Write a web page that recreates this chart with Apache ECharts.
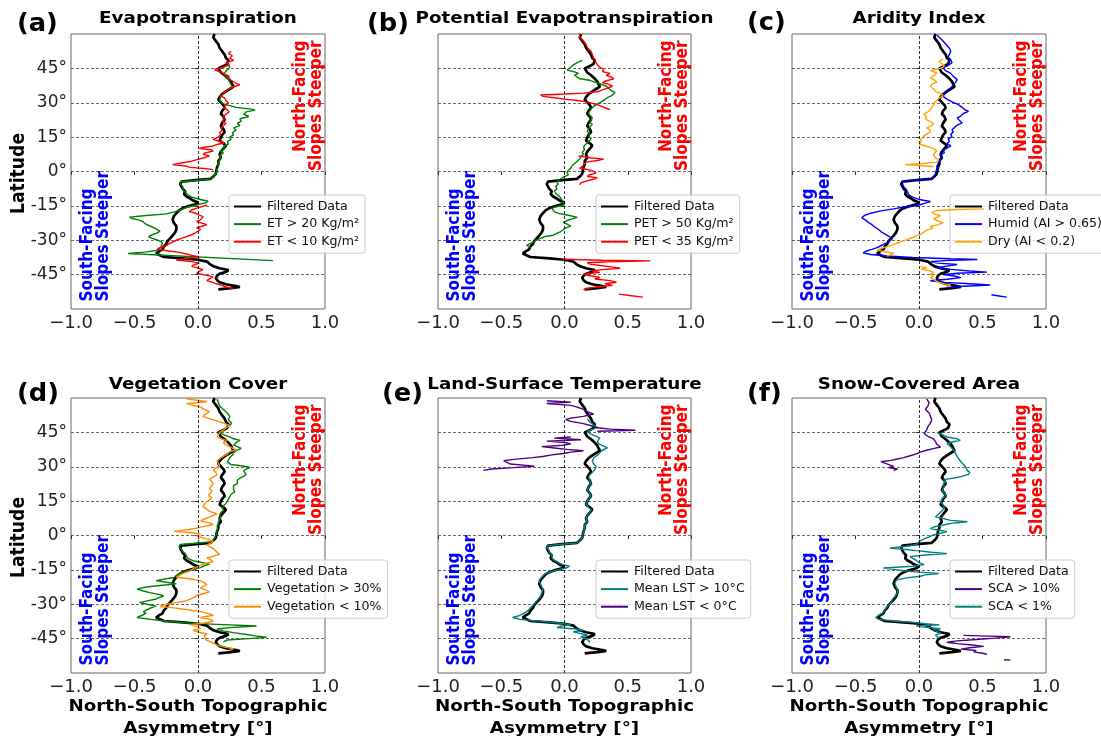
<!DOCTYPE html>
<html><head><meta charset="utf-8">
<script src="https://cdn.jsdelivr.net/npm/echarts@6/dist/echarts.min.js"></script>
<style>html,body{margin:0;padding:0;background:#fff}#c{width:1101px;height:740px}</style>
</head><body><div id="c"></div>
<script>
// ---- data: [latitude, asymmetry] ----
const latTicks = [-45, -30, -15, 0, 15, 30, 45];
const asymTicks = [-1, -0.5, 0, 0.5, 1];

const filtered = [[60,0.13],[58.5,0.12],[57,0.14],[55.5,0.16],[54,0.17],[52.5,0.19],[51,0.21],[49.5,0.22],[48.5,0.24],[47,0.23],[46,0.2],[45,0.16],[44.3,0.145],[43.2,0.18],[42,0.21],[40.5,0.24],[39.2,0.26],[38,0.27],[37,0.28],[36,0.25],[35,0.22],[33.8,0.19],[32.5,0.17],[31.3,0.16],[30.2,0.18],[29,0.2],[27.8,0.21],[26.5,0.19],[25.2,0.18],[24,0.2],[22.6,0.21],[21.2,0.19],[19.8,0.18],[18.5,0.2],[17.2,0.21],[16,0.19],[14.8,0.18],[13.5,0.17],[12.3,0.2],[11.3,0.22],[10,0.2],[8.7,0.18],[7.4,0.17],[6,0.18],[4.6,0.16],[3.2,0.16],[1.8,0.15],[0.4,0.145],[-1,0.14],[-2.2,0.12],[-3.2,0.1],[-3.8,-0.02],[-4.4,-0.13],[-5.5,-0.14],[-6.6,-0.13],[-7.6,-0.12],[-8.7,-0.1],[-9.8,-0.11],[-10.9,-0.09],[-11.8,-0.06],[-12.6,-0.04],[-13.5,0.0],[-14.3,-0.02],[-15.2,-0.08],[-16,-0.12],[-17,-0.15],[-18.2,-0.17],[-19.5,-0.19],[-21,-0.2],[-22.4,-0.19],[-23.8,-0.17],[-25.2,-0.17],[-26.6,-0.18],[-28,-0.2],[-29.2,-0.22],[-30.4,-0.24],[-31.6,-0.25],[-32.8,-0.27],[-34,-0.28],[-35,-0.31],[-35.8,-0.33],[-36.6,-0.32],[-37.3,-0.27],[-37.9,-0.12],[-38.5,0.0],[-39.3,0.07],[-40.3,0.09],[-41.3,0.12],[-42.2,0.17],[-43,0.24],[-43.8,0.22],[-44.6,0.17],[-45.5,0.15],[-46.5,0.14],[-47.4,0.15],[-48.3,0.17],[-49.2,0.22],[-50,0.3],[-50.4,0.33],[-50.9,0.26],[-51.4,0.16]];

const etHigh = [[47,0.24],[45.5,0.25],[44.3,0.23],[42.5,0.2],[41,0.23],[39,0.25],[37,0.27],[35,0.22],[33,0.18],[31,0.17],[29.5,0.2],[28,0.3],[27.2,0.42],[26.8,0.45],[26,0.38],[25,0.36],[24,0.4],[23,0.33],[22,0.34],[21,0.31],[20,0.33],[19,0.28],[18,0.3],[17,0.27],[16,0.28],[15,0.25],[14,0.26],[13,0.23],[12,0.24],[11,0.2],[10,0.21],[9,0.18],[8,0.2],[7,0.17],[6,0.18],[5,0.17],[4,0.16],[3,0.155],[2,0.16],[1,0.15],[0,0.145],[-1,0.14],[-2.2,0.12],[-3.2,0.1],[-3.9,-0.02],[-4.5,-0.14],[-5.5,-0.14],[-6.6,-0.12],[-7.8,-0.12],[-9,-0.1],[-10.2,-0.08],[-11.2,-0.05],[-12.2,0.02],[-13,0.08],[-13.8,0.05],[-14.6,-0.01],[-15.5,-0.08],[-16.5,-0.13],[-17.5,-0.18],[-18.5,-0.25],[-19.4,-0.45],[-19.9,-0.54],[-20.5,-0.52],[-21.2,-0.46],[-22,-0.43],[-23,-0.41],[-24,-0.37],[-25,-0.33],[-26,-0.3],[-26.8,-0.32],[-27.6,-0.36],[-28.4,-0.39],[-29.2,-0.36],[-29.9,-0.32],[-30.6,-0.29],[-31.5,-0.28],[-32.5,-0.29],[-33.5,-0.3],[-34.5,-0.33],[-35.2,-0.42],[-35.8,-0.55],[-38.9,0.59]];

const etLow = [[52.5,0.26],[51.5,0.24],[50.5,0.27],[49.5,0.25],[48.5,0.28],[47.5,0.22],[46.5,0.245],[45.5,0.2],[44.5,0.13],[43.5,0.17],[42.5,0.21],[41.5,0.245],[40.5,0.24],[39.5,0.27],[38.5,0.3],[37.8,0.33],[37,0.28],[36,0.245],[35,0.22],[34,0.2],[33,0.18],[32,0.21],[31,0.22],[30,0.24],[29,0.22],[28,0.2],[27,0.23],[26,0.245],[25,0.22],[24,0.2],[23,0.21],[22,0.19],[21,0.22],[20,0.2],[19,0.18],[18,0.19],[17,0.17],[16,0.18],[15,0.16],[14,0.12],[13,0.18],[12.5,0.21],[11.8,0.15],[11.2,0.12],[10.6,0.05],[10.1,0.01],[9.5,0.1],[8.9,0.12],[8.2,0.06],[7.5,0.04],[6.8,0.09],[6,0.05],[5.3,0.0],[4.5,-0.05],[3.8,-0.12],[3,-0.2],[2.4,-0.1],[1.8,-0.06],[1.3,0.05],[0.8,0.12],null,
[-14.6,0.07],[-15.3,0.03],[-16,-0.01],[-16.8,-0.05],[-17.5,-0.07],[-18.2,-0.02],[-19,0.01],[-19.7,0.04],[-20.4,0.05],[-21.1,0.02],[-21.8,-0.01],[-22.5,0.03],[-23.2,0.07],[-23.9,0.03],[-24.6,-0.01],[-25.3,0.02],[-26,0.01],[-26.8,-0.02],[-27.6,-0.05],[-28.4,-0.09],[-29.2,-0.13],[-30,-0.17],[-30.8,-0.2],[-31.6,-0.23],[-32.4,-0.25],[-33.2,-0.3],[-33.8,-0.32],[-34.6,-0.24],[-35.3,-0.15],[-36,-0.09],[-36.6,-0.05],[-37.2,0.01],[-37.8,-0.08],[-38.6,-0.17],[-39.3,-0.05],[-40,0.01],[-40.7,-0.03],[-41.4,-0.05],[-42.1,0.0],[-42.8,0.04],[-43.6,0.01],[-44.4,-0.01],[-45.2,0.06],[-46,0.12],[-46.8,0.09],[-47.6,0.07],[-48.3,0.11],[-49,0.145],[-49.7,0.19],[-50.4,0.22],[-51,0.28]];

const petHigh = [[48.5,0.14],[47.5,0.1],[46.5,0.07],[45.5,0.05],[44.3,0.02],[43.5,0.08],[42.8,0.11],[42,0.08],[41.2,0.07],[40.5,0.12],[39.8,0.2],[39,0.24],[38.3,0.28],[37.5,0.32],[36.8,0.34],[36,0.33],[35.2,0.37],[34.5,0.4],[33.8,0.41],[33,0.37],[32.3,0.34],[31.5,0.32],[30.7,0.3],[30,0.28],[29.2,0.25],[28.4,0.23],[27.4,0.21],[26.5,0.2],[25.5,0.19],[24.5,0.2],[23.5,0.22],[22.5,0.21],[21.5,0.2],[20.5,0.22],[19.5,0.2],[18.5,0.19],[17.5,0.18],[16.5,0.2],[15.5,0.19],[14.5,0.21],[13.5,0.2],[12.5,0.18],[11.5,0.16],[10.5,0.15],[9.5,0.16],[8.5,0.14],[7.5,0.15],[6.5,0.13],[5.5,0.12],[4.5,0.1],[3.5,0.08],[2.5,0.06],[1.5,0.05],[0.5,0.03],[-0.5,0.02],[-1.5,0.03],[-2.5,-0.01],[-3.5,-0.04],[-4.5,-0.06],[-5.5,-0.05],[-6.5,-0.07],[-7.5,-0.06],[-8.5,-0.08],[-9.5,-0.07],[-10.5,-0.05],[-11.5,-0.03],[-12.5,-0.02],[-13.5,-0.01],[-14.5,0.0],[-15.3,-0.06],[-16,-0.1],[-16.8,-0.11],[-17.6,-0.08],[-18.4,-0.04],[-19.2,0.04],[-20,0.1],[-20.7,0.06],[-21.4,0.02],[-22.2,-0.01],[-23,0.02],[-23.8,0.05],[-24.6,0.01],[-25.4,-0.01],[-26.2,-0.03],[-27,-0.06],[-27.8,-0.09],[-28.5,-0.16],[-29.2,-0.19],[-29.9,-0.22],[-30.6,-0.24],[-31.4,-0.27],[-32.2,-0.3],[-33,-0.27]];

const petLow = [[60,0.12],[58.5,0.12],[57,0.15],[55.5,0.17],[54,0.18],[52.5,0.21],[51,0.22],[49.5,0.23],[48.5,0.24],[47.5,0.25],[46.5,0.26],[45.5,0.28],[44.5,0.31],[43.6,0.3],[42.8,0.36],[42,0.33],[41.2,0.37],[40.4,0.39],[39.6,0.33],[38.8,0.3],[38,0.35],[37.2,0.38],[36.4,0.34],[35.6,0.3],[34.8,0.26],[34.2,0.15],[33.8,0.0],[33.4,-0.19],[32.8,-0.17],[32.2,-0.08],[31.6,0.0],[31,0.1],[30.4,0.18],[29.7,0.22],[29,0.27],[28.3,0.3],[27.6,0.33],[27,0.36],null,
[6.8,0.11],[6,0.2],[5.4,0.31],[4.8,0.26],[4.2,0.18],[3.5,0.16],[2.8,0.15],[2.1,0.14],[1.4,0.12],[0.7,0.2],[0,0.23],[-0.7,0.25],[-1.4,0.2],[-2.1,0.18],[-2.8,0.26],[-3.5,0.22],[-4.2,0.17],[-5,0.13],[-5.8,0.12],null,
[-38.3,-0.01],[-38.7,0.3],[-39,0.68],[-39.4,0.35],[-39.8,0.18],[-40.4,0.2],[-41,0.28],[-41.6,0.37],[-42.2,0.44],[-42.8,0.3],[-43.4,0.22],[-44,0.28],[-44.8,0.15],[-45.5,0.2],[-46.2,0.28],[-46.9,0.24],[-47.6,0.36],[-48.3,0.41],[-49,0.32],[-49.7,0.38],[-50.4,0.25],[-51,0.18],[-51.6,0.15],null,
[-53.5,0.43],[-54.2,0.53],[-54.8,0.62]];

const aiHumid = [[59.6,0.14],[58.5,0.16],[57.5,0.18],[56.3,0.2],[55,0.22],[53.8,0.24],[52.5,0.25],[51.2,0.24],[50,0.23],[48.8,0.25],[47.5,0.26],[46.3,0.23],[45.2,0.19],[44,0.21],[42.8,0.25],[41.5,0.27],[40.2,0.3],[39,0.29],[37.8,0.27],[36.5,0.25],[35.3,0.22],[34,0.2],[32.8,0.19],[31.6,0.22],[30.4,0.26],[29.2,0.31],[28,0.34],[27,0.36],[26.2,0.39],[25.3,0.35],[24.3,0.33],[23.3,0.3],[22.2,0.32],[21.2,0.34],[20.2,0.3],[19.2,0.28],[18.2,0.26],[17.2,0.27],[16.2,0.25],[15.2,0.26],[14.2,0.23],[13.2,0.24],[12.2,0.22],[11.2,0.25],[10.2,0.22],[9.2,0.19],[8.2,0.2],[7.2,0.17],[6.2,0.18],[5.2,0.16],[4.2,0.155],[3.2,0.15],[2.2,0.14],[1.2,0.14],[0.2,0.135],[-1,0.13],[-2.2,0.12],[-3.2,0.09],[-3.8,-0.02],[-4.4,-0.13],[-5.5,-0.13],[-6.6,-0.12],[-7.8,-0.1],[-9,-0.09],[-10.2,-0.08],[-11.2,-0.05],[-12.2,0.0],[-13.1,0.09],[-13.8,0.05],[-14.6,0.0],[-15.5,-0.12],[-16.3,-0.2],[-17.2,-0.3],[-18.2,-0.38],[-19.2,-0.43],[-20.2,-0.45],[-21.2,-0.42],[-22.2,-0.4],[-23.2,-0.37],[-24.2,-0.35],[-25.2,-0.32],[-26.2,-0.3],[-27.2,-0.27],[-28.2,-0.24],[-29.2,-0.21],[-30,-0.2],[-30.8,-0.24],[-31.6,-0.27],[-32.4,-0.3],[-33.2,-0.33],[-34,-0.37],[-34.8,-0.42],[-35.5,-0.44],[-36.2,-0.38],[-36.9,-0.25],[-37.5,-0.05],[-38.1,0.25],[-38.4,0.46],[-38.9,0.2],[-39.4,0.09],[-40,0.15],[-40.6,0.3],[-41.3,0.22],[-42,0.14],[-42.7,0.25],[-43.4,0.4],[-43.9,0.535],[-44.4,0.3],[-45,0.19],[-45.6,0.28],[-46.3,0.33],[-47,0.22],[-47.7,0.09],[-48.4,0.2],[-49,0.4],[-49.5,0.56],[-50.1,0.35],[-50.6,0.22],null,[-53.8,0.57],[-54.3,0.63],[-54.8,0.69]];

const aiDry = [[49,0.19],[48,0.155],[47,0.18],[46,0.2],[45,0.17],[44,0.09],[43,0.14],[42,0.12],[41,0.09],[40,0.12],[39,0.14],[38,0.1],[37,0.09],[36,0.115],[35,0.13],[34,0.17],[33,0.19],[32,0.16],[31,0.14],[30,0.12],[29,0.115],[28,0.1],[27,0.09],[26,0.07],[25,0.04],[24,0.06],[23,0.05],[22,0.08],[21,0.115],[20,0.1],[19,0.06],[18,0.09],[17,0.08],[16,0.05],[15,0.03],[14,0.01],[13,0.02],[12,0.0],[11.5,0.01],[10.7,0.08],[10,0.115],[9,0.14],[8,0.12],[7,0.115],[6,0.13],[5,0.155],[4,0.14],[3.4,0.0],[3.0,-0.11],[2.6,0.0],[2.2,0.115],null,
[-16.3,0.51],[-16.6,0.3],[-17,0.14],[-17.8,0.1],[-18.5,0.12],[-19.3,0.17],[-20,0.14],[-20.8,0.115],[-21.6,0.15],[-22.4,0.19],[-23.2,0.15],[-24,0.09],[-24.8,0.11],[-25.6,0.06],[-26.4,0.04],[-27.2,0.02],[-28,-0.015],[-28.8,-0.05],[-29.6,-0.09],[-30.4,-0.13],[-31.2,-0.17],[-32,-0.21],[-32.8,-0.25],[-33.6,-0.3],[-34.3,-0.33],[-35,-0.27],[-35.7,-0.2],[-36.4,-0.23],[-37,-0.25],null,
[-41.5,0.01],[-42,0.06],[-42.6,0.02],[-43.2,0.08],[-44,0.115],[-44.8,0.09],[-45.6,0.11],[-46.4,0.09],[-47.2,0.12],[-48,0.14],[-48.8,0.18],[-49.6,0.25],[-50.2,0.22]];

const vegHigh = [[59.6,0.15],[58,0.16],[56.5,0.17],[55,0.2],[53.5,0.23],[52,0.25],[50.5,0.24],[49,0.265],[48,0.25],[47,0.22],[46,0.2],[45,0.17],[44,0.2],[43,0.25],[42.2,0.28],[41.5,0.33],[40.5,0.3],[39.5,0.28],[38.8,0.31],[38,0.34],[37,0.3],[36,0.28],[35,0.27],[34,0.25],[33,0.24],[32,0.23],[31,0.26],[30.3,0.35],[29.7,0.41],[29,0.38],[28.2,0.36],[27.4,0.37],[26.6,0.38],[25.8,0.36],[25,0.33],[24.2,0.31],[23.4,0.3],[22.6,0.31],[21.8,0.28],[21,0.29],[20,0.28],[19,0.29],[18,0.26],[17,0.25],[16,0.24],[15,0.23],[14,0.22],[13,0.2],[12,0.19],[11,0.2],[10,0.18],[9,0.17],[8,0.18],[7,0.17],[6,0.16],[5,0.16],[4,0.15],[3,0.155],[2,0.15],[1,0.145],[0,0.14],[-1,0.13],[-2,0.12],[-2.8,0.1],[-3.4,-0.02],[-3.9,-0.14],[-5,-0.15],[-6,-0.13],[-7,-0.12],[-8,-0.1],[-9,-0.09],[-10,-0.08],[-11,-0.04],[-11.8,0.03],[-12.5,0.09],[-13.2,0.05],[-14,0.02],[-14.8,-0.04],[-15.6,-0.09],[-16.5,-0.14],[-17.4,-0.17],[-18.3,-0.19],[-19,-0.26],[-19.7,-0.33],[-20.4,-0.25],[-21.1,-0.17],[-21.8,-0.3],[-22.6,-0.42],[-23.4,-0.48],[-24.2,-0.43],[-24.9,-0.38],[-25.6,-0.32],[-26.3,-0.27],[-27,-0.3],[-27.7,-0.33],[-28.5,-0.4],[-29.3,-0.46],[-30,-0.4],[-30.8,-0.33],[-31.6,-0.37],[-32.4,-0.4],[-33.2,-0.43],[-34,-0.41],[-34.8,-0.44],[-35.8,-0.48],[-36.6,-0.37],[-37.4,-0.25],[-38.2,-0.09],[-38.8,0.15],[-39.5,0.46],[-40.2,0.25],[-40.8,0.15],[-41.6,0.2],[-42.4,0.28],[-43.2,0.38],[-43.8,0.45],[-44.4,0.54],[-45,0.4],[-45.6,0.23],[-46.4,0.2]];

const vegLow = [[59.6,-0.09],[58.5,0.07],[57.5,-0.09],[56,0.02],[55,0.05],[54,0.09],[53,0.06],[52,0.04],[51,0.09],[50,0.15],[49,0.2],[48,0.25],[47,0.22],[46,0.2],[45,0.17],[44,0.16],[43,0.15],[42,0.19],[41.5,0.23],[40.5,0.2],[39.5,0.22],[38.5,0.26],[37.5,0.3],[36.5,0.25],[35.5,0.23],[34.5,0.2],[33.5,0.17],[32.5,0.15],[31.5,0.16],[30.5,0.17],[29.5,0.14],[28.5,0.12],[27.5,0.14],[26.5,0.15],[25.5,0.12],[24.5,0.09],[23.5,0.11],[22.5,0.12],[21.5,0.1],[20.5,0.09],[19.5,0.11],[18.5,0.1],[17.5,0.08],[16.5,0.11],[15.5,0.09],[14.5,0.06],[13.5,0.05],[12.5,0.04],[11.5,0.07],[10.5,0.09],[9.5,0.15],[8.8,0.12],[8,0.09],[7.2,0.05],[6.4,0.02],[5.6,0.08],[4.8,0.12],[4,0.05],[3.2,-0.01],[2.5,-0.08],[1.8,-0.19],[1.2,-0.05],[0.6,0.02],[-0.2,-0.01],[-0.9,0.03],[-1.7,0.08],[-2.5,0.12],[-3.3,0.1],[-4.1,0.07],[-4.9,0.09],[-5.7,0.12],[-6.5,0.13],[-7.3,0.15],[-8.2,0.17],[-9,0.12],[-9.8,0.07],[-10.6,0.1],[-11.4,0.12],[-12.2,0.06],[-13,0.02],[-13.8,-0.01],[-14.6,-0.04],[-15.4,-0.06],[-16.2,-0.1],[-17.2,-0.14],[-18.2,-0.17],[-19,-0.05],[-19.8,0.02],[-20.6,0.05],[-21.4,0.07],[-22.2,0.04],[-23,0.02],[-23.8,0.06],[-24.6,0.09],[-25.4,0.04],[-26.2,-0.01],[-27,-0.03],[-27.8,-0.04],[-28.6,-0.1],[-29.4,-0.19],[-30.2,-0.26],[-31,-0.3],[-31.6,-0.19],[-32.4,-0.08],[-33.2,0.02],[-34,0.08],[-34.8,0.12],[-35.8,0.02],[-36.6,0.1],[-37.4,0.12],[-38.2,0.05],[-39,-0.06],[-39.8,0.0],[-40.6,0.02],[-41.4,-0.04],[-42.2,0.01],[-43,0.07],[-43.8,0.05],[-44.6,0.04],[-45.4,0.06],[-46.2,0.09],[-47,0.12],[-47.8,0.15],[-48.6,0.2],[-49.4,0.28],[-50,0.25]];

const lstWarm = [[50.8,0.18],[49.6,0.2],[48.3,0.23],[47.2,0.26],[46.3,0.22],[45.5,0.18],[44.5,0.2],[43.5,0.24],[42.5,0.28],[41.3,0.26],[40,0.27],[39,0.31],[38.2,0.34],[37.2,0.3],[36.2,0.28],[35,0.26],[33.8,0.23],[32.5,0.22],[31.3,0.23],[30,0.25],[28.8,0.24],[27.6,0.22],[26.5,0.2],[25.2,0.19],[24,0.2],[22.6,0.21],[21.2,0.19],[19.8,0.18],[18.5,0.2],[17.2,0.21],[16,0.19],[14.8,0.18],[13.5,0.17],[12.3,0.19],[11.3,0.21],[10,0.2],[8.7,0.18],[7.4,0.17],[6,0.18],[4.6,0.16],[3.2,0.16],[1.8,0.15],[0.4,0.145],[-1,0.14],[-2.2,0.12],[-3.2,0.1],[-3.8,-0.02],[-4.4,-0.13],[-5.5,-0.14],[-6.6,-0.12],[-7.6,-0.12],[-8.7,-0.1],[-9.8,-0.1],[-10.9,-0.08],[-11.8,-0.05],[-12.6,-0.02],[-13.4,0.04],[-14.2,0.01],[-15.2,-0.07],[-16,-0.12],[-17,-0.16],[-18.2,-0.18],[-19.5,-0.2],[-21,-0.19],[-22.4,-0.18],[-23.8,-0.17],[-25.2,-0.18],[-26.6,-0.19],[-28,-0.21],[-29.2,-0.23],[-30.4,-0.25],[-31.6,-0.27],[-32.8,-0.29],[-34,-0.32],[-35,-0.36],[-35.8,-0.41],[-36.6,-0.35],[-37.3,-0.22],[-37.9,-0.1],[-38.5,0.0],[-39,0.05],[-39.6,-0.03],[-40.2,-0.06],[-40.8,0.1],[-41.4,0.15],[-42,0.07],[-42.7,0.12],[-43.4,0.18],[-44.2,0.13],[-45,0.17],[-45.8,0.19],[-46.7,0.2]];

const lstCold = [[58.8,-0.14],[58.2,0.05],[57.6,-0.14],[56.8,0.05],[56,0.1],[55,0.15],[54,0.18],[53,0.23],[52,0.15],[51.2,0.05],[50.6,0.01],[49.8,0.05],[48.8,0.15],[47.8,0.22],[47,0.26],[46.4,0.36],[45.9,0.56],[45.5,0.26],null,
[43,0.05],[42.5,-0.08],[41.8,0.13],[41.2,-0.14],[40.6,0.0],[40,0.05],[39.4,-0.01],[38.8,-0.18],[38.2,-0.08],[37.6,0.02],[37,0.15],[36.4,0.05],[35.8,-0.01],[35.2,-0.1],[34.6,-0.16],[34,-0.25],[33.2,-0.4],[32.6,-0.48],[31.8,-0.45],[31.2,-0.43],[30.6,-0.3],[30.2,-0.24],[29.6,-0.4],[29,-0.58],[28.4,-0.64]];

const scaHigh = [[59.6,0.06],[58,0.08],[56.5,0.07],[55,0.05],[53.5,0.08],[52,0.09],[50.5,0.1],[49,0.09],[47.5,0.07],[46,0.06],[44.5,0.04],[43.3,0.07],[42.2,0.115],[41,0.13],[39.8,0.14],[38.6,0.17],[38,0.12],[37.2,0.06],[36.4,0.01],[35.6,-0.02],[34.8,-0.07],[34,-0.12],[33.4,-0.17],[32.8,-0.22],[32.2,-0.3],[31.6,-0.27],[31,-0.28],[30.2,-0.2],[29.6,-0.24],[29,-0.17],[28.4,-0.2],null,
[-43.6,0.35],[-43.9,0.55],[-44.2,0.72],[-44.8,0.6],[-45.4,0.45],[-46,0.3],[-46.6,0.22],[-47.2,0.3],[-47.8,0.42],[-48.4,0.51],[-49,0.4],[-49.6,0.33],[-50.2,0.45],[-50.8,0.43],[-51.4,0.5],[-51.8,0.535],null,[-54.2,0.67],[-54.4,0.72]];

const scaLow = [[45,0.14],[44,0.18],[43,0.22],[42.2,0.3],[41.5,0.325],[40.8,0.26],[40,0.22],[39.2,0.24],[38.4,0.25],[37.5,0.27],[36.6,0.28],[35.6,0.29],[34.6,0.3],[33.6,0.31],[32.6,0.325],[31.5,0.34],[30.5,0.36],[29.5,0.37],[28.4,0.38],[27.6,0.4],[26.7,0.39],[26,0.35],[25.3,0.3],[24.6,0.22],[24,0.19],[23.2,0.21],[22.4,0.19],[21.5,0.2],[20.5,0.19],[19.5,0.18],[18.5,0.2],[17.5,0.21],[16.5,0.19],[15.5,0.18],[14.5,0.17],[13.5,0.19],[12.5,0.2],[11.3,0.19],[10.2,0.17],[9.2,0.15],[8.2,0.13],[7.4,0.115],[6.6,0.25],[6,0.38],[5.3,0.25],[4.6,0.19],[3.8,0.12],[3,0.09],[2.4,0.15],[1.7,0.22],[1,0.17],[0.3,0.115],[-0.6,0.08],[-1.5,0.04],[-2.3,0.01],[-3,0.0],[-3.9,-0.02],[-4.7,-0.1],[-5.5,-0.23],[-6.1,-0.1],[-6.6,-0.02],[-7.3,0.1],[-7.9,0.22],[-8.5,0.05],[-9.2,-0.07],[-10,-0.05],[-10.9,-0.02],[-11.8,0.0],[-12.7,0.04],[-13.4,-0.05],[-14.2,-0.28],[-14.8,-0.2],[-15.4,-0.12],[-16,0.0],[-16.6,0.155],[-17.2,0.05],[-17.8,0.01],[-18.5,-0.1],[-19.5,-0.18],[-21,-0.19],[-22.4,-0.18],[-23.8,-0.17],[-25.2,-0.17],[-26.6,-0.19],[-28,-0.21],[-29.2,-0.22],[-30.4,-0.24],[-31.6,-0.26],[-32.8,-0.27],[-34,-0.29],[-35,-0.32],[-35.8,-0.34],[-36.6,-0.31],[-37.3,-0.2],[-37.9,-0.05],[-38.5,0.05],[-39,0.16],[-39.5,-0.02],[-40.1,0.06],[-40.7,0.17],[-41.3,0.11],[-42,0.15],[-42.7,0.17],[-43.5,0.13],[-44.3,0.15],[-45.2,0.14]];

const panelTitles = ['Evapotranspiration','Potential Evapotranspiration','Aridity Index','Vegetation Cover','Land-Surface Temperature','Snow-Covered Area'];
const panelLetters = ['(a)','(b)','(c)','(d)','(e)','(f)'];
const panelSeries = [
  [['Filtered Data', filtered], ['ET > 20 Kg/m²', etHigh], ['ET < 10 Kg/m²', etLow]],
  [['Filtered Data', filtered], ['PET > 50 Kg/m²', petHigh], ['PET < 35 Kg/m²', petLow]],
  [['Filtered Data', filtered], ['Humid (AI > 0.65)', aiHumid], ['Dry (AI < 0.2)', aiDry]],
  [['Filtered Data', filtered], ['Vegetation > 30%', vegHigh], ['Vegetation < 10%', vegLow]],
  [['Filtered Data', filtered], ['Mean LST > 10°C', lstWarm], ['Mean LST < 0°C', lstCold]],
  [['Filtered Data', filtered], ['SCA > 10%', scaHigh], ['SCA < 1%', scaLow]]
];

// ---- styling / layout ----
const FONT = 'DejaVu Sans';
const panelColors = [
  ['#000000','#008000','#ff0000'],
  ['#000000','#008000','#ff0000'],
  ['#000000','#0000ff','#ffa500'],
  ['#000000','#008000','#ff8c00'],
  ['#000000','#008080','#4b0082'],
  ['#000000','#4b0082','#008080']
];
const grids = [
  {left:71, top:34, width:254, height:275},
  {left:438, top:34, width:253, height:275},
  {left:792, top:34, width:254, height:275},
  {left:71, top:398, width:254, height:275},
  {left:438, top:398, width:253, height:275},
  {left:792, top:398, width:254, height:275}
];
const legendPos = [[229,195],[596,195],[950,195],[229,560],[596,560],[950,560]];
const letterPos = [[17,25],[367,25],[747,24],[17,395],[382,395],[747,395]];

function toXY(arr){ return arr.map(p => p === null ? ['-','-'] : [p[1], p[0]]); }
function fmtX(v){ return (v < 0 ? '\u2212' : '') + Math.abs(v).toFixed(1); }

const option = {
  animation:false,
  backgroundColor:'#fff',
  grid: grids.map(g => Object.assign({show:true, borderColor:'#666', borderWidth:1, backgroundColor:'transparent'}, g)),
  xAxis: grids.map((g,i) => ({
    gridIndex:i, type:'value', min:-1, max:1, interval:0.5,
    axisLine:{show:false},
    axisTick:{show:true, length:3.5, lineStyle:{color:'#333', width:1}},
    axisLabel:{fontSize:18, color:'#222', fontFamily:FONT, margin:5, formatter:fmtX},
    splitLine:{show:false}
  })),
  yAxis: grids.map((g,i) => ({
    gridIndex:i, type:'value', min:-60, max:60, interval:15,
    axisLine:{show:false},
    axisTick:{show:true, length:3.5, lineStyle:{color:'#333', width:1}, customValues:latTicks},
    axisLabel:{show:i%3===0, fontSize:17, color:'#222', fontFamily:FONT, margin:4, customValues:latTicks,
      formatter: v => (Math.abs(v) >= 60 ? '' : v + '°')},
    splitLine:{show:true, lineStyle:{type:[3,2], color:'#444', width:0.8}}
  })),
  legend: panelSeries.map((ps,i) => ({
    left:legendPos[i][0], top:legendPos[i][1], orient:'vertical',
    data: ps.map(s => s[0]),
    itemWidth:27, itemHeight:14, itemGap:4.6,
    padding:[5,6,5,4],
    backgroundColor:'rgba(255,255,255,0.8)', borderColor:'#cccccc', borderWidth:1, borderRadius:3,
    itemStyle:{opacity:0},
    selectedMode:false,
    textStyle:{fontSize:12.6, fontFamily:FONT, color:'#111', padding:[0,0,0,1]}
  })),
  series: [],
  graphic: []
};

panelSeries.forEach((ps,i) => {
  ps.forEach((s,k) => {
    const ser = {
      type:'line', name:s[0], xAxisIndex:i, yAxisIndex:i,
      data: toXY(s[1]), symbol:'none', showSymbol:false, connectNulls:false,
      color: panelColors[i][k],
      lineStyle:{color:panelColors[i][k], width: k === 0 ? 2.7 : 1.4},
      silent:true, z: 2 + k
    };
    if (k === 0) {
      ser.markLine = {silent:true, symbol:'none', label:{show:false}, animation:false,
        lineStyle:{type:[3,2], color:'#000', width:0.8}, data:[{xAxis:0}]};
    }
    option.series.push(ser);
  });
});

// text in the reference is slightly stretched horizontally
const STRETCH = 1.13;
const G = option.graphic;
grids.forEach((g,i) => {
  const cx = g.left + g.width/2;
  const row = i < 3 ? 0 : 1;
  G.push({type:'text', x:cx, y: row===0 ? 18.5 : 385, scaleX:STRETCH, silent:true,
    style:{text:panelTitles[i], fontSize:16.2, fontWeight:'bold', fontFamily:FONT, fill:'#000', align:'center', verticalAlign:'middle'}});
  G.push({type:'text', x:letterPos[i][0], y:letterPos[i][1], scaleX:1.05, silent:true,
    style:{text:panelLetters[i], fontSize:24.5, fontWeight:'bold', fontFamily:FONT, fill:'#000', align:'left', verticalAlign:'middle'}});
  G.push({type:'text', x:g.left + g.width - 16.7, y:g.top + 6.5, rotation:Math.PI/2, scaleY:STRETCH, silent:true, z:10,
    style:{text:'North-Facing\nSlopes Steeper', fontSize:15.3, fontWeight:'bold', fontFamily:FONT, fill:'#ff0000', align:'right', verticalAlign:'middle', lineHeight:16.5/STRETCH}});
  G.push({type:'text', x:g.left + 24.5, y:g.top + g.height - 7.5, rotation:Math.PI/2, scaleY:STRETCH, silent:true, z:10,
    style:{text:'South-Facing\nSlopes Steeper', fontSize:15.3, fontWeight:'bold', fontFamily:FONT, fill:'#0000ff', align:'left', verticalAlign:'middle', lineHeight:16.5/STRETCH}});
  if (i % 3 === 0) {
    G.push({type:'text', x:19, y:g.top + g.height/2 + 2, rotation:Math.PI/2, scaleY:STRETCH, silent:true,
      style:{text:'Latitude', fontSize:17.2, fontWeight:'bold', fontFamily:FONT, fill:'#000', align:'center', verticalAlign:'middle'}});
  }
  if (row === 1) {
    G.push({type:'text', x:cx, y:717.5, scaleX:STRETCH, silent:true,
      style:{text:'North-South Topographic\nAsymmetry [°]', fontSize:16.2, fontWeight:'bold', fontFamily:FONT, fill:'#000', align:'center', verticalAlign:'middle', lineHeight:21.6}});
  }
});

const chart = echarts.init(document.getElementById('c'), null, {renderer:'canvas'});
chart.setOption(option);
</script></body></html>
